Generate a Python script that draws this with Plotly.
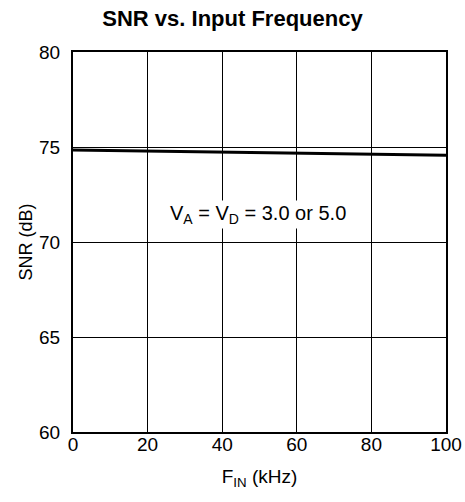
import plotly.graph_objects as go

freq_khz = [0, 20, 40, 60, 80, 100]
snr_db = [74.84, 74.79, 74.73, 74.67, 74.61, 74.56]
x_ticks = [0, 20, 40, 60, 80, 100]
y_ticks = [60, 65, 70, 75, 80]

FONT = "Liberation Sans, Arial, Helvetica, sans-serif"

fig = go.Figure()
fig.add_trace(go.Scatter(x=freq_khz, y=snr_db, mode="lines",
                         line=dict(color="black", width=3), showlegend=False,
                         hoverinfo="skip"))

fig.add_annotation(x=49.6, y=71.45, xref="x", yref="y",
                   text="V<sub>A</sub> = V<sub>D</sub> = 3.0 or 5.0",
                   showarrow=False, font=dict(family=FONT, size=20, color="black"),
                   bgcolor="white")

axis_common = dict(showgrid=True, gridcolor="black", gridwidth=1,
                   showline=True, linecolor="black", linewidth=2, mirror=True,
                   ticks="", zeroline=False, automargin=False,
                   tickfont=dict(family=FONT, size=19, color="black"))

fig.update_xaxes(range=[0, 100], tickvals=x_ticks, ticktext=[str(v) for v in x_ticks],
                 title=dict(text="F<sub>IN</sub> (kHz)", font=dict(family=FONT, size=19, color="black"),
                            standoff=16),
                 ticklabelstandoff=-6,
                 **axis_common)
fig.update_yaxes(range=[60, 80], tickvals=y_ticks, ticktext=[str(v) for v in y_ticks],
                 title=dict(text="SNR (dB)", font=dict(family=FONT, size=18, color="black"),
                            standoff=2),
                 ticklabelstandoff=7,
                 **axis_common)

fig.update_layout(
    width=465, height=502,
    margin=dict(l=73, r=19, t=52, b=70, autoexpand=False),
    plot_bgcolor="white", paper_bgcolor="white",
    title=dict(text="<b>SNR vs. Input Frequency</b>", x=0.5, xanchor="center",
               xref="container", y=0.964, yanchor="middle", yref="container",
               font=dict(family=FONT, size=22, color="black")),
)

fig.write_html("out.html",
               config={"displayModeBar": False},
               post_script="document.body.style.margin='0';document.body.style.overflow='hidden';")
